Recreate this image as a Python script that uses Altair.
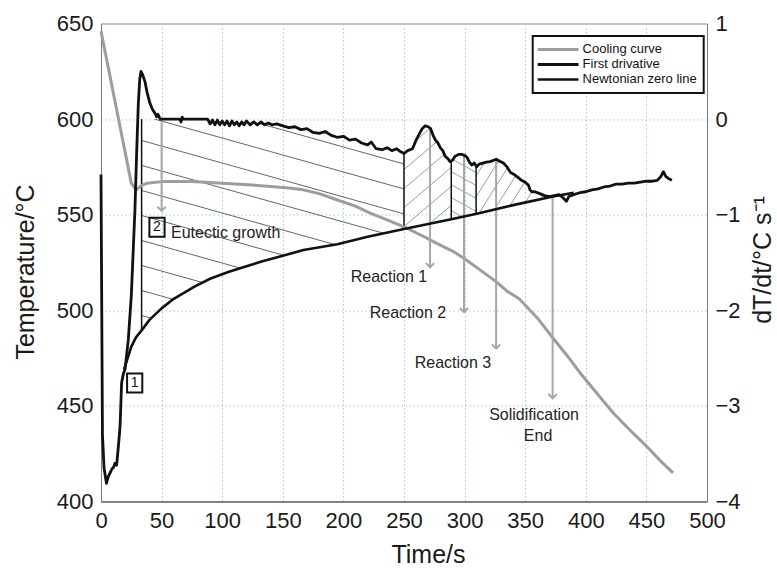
import altair as alt
import numpy as np
import pandas as pd

# ---------------- data ----------------
# cooling curve: time (s) and temperature (°C)
cool_t = [0, 25, 29, 33, 38, 50, 75, 100, 125, 140, 155, 167, 180, 195, 210, 222, 235,
          250, 265, 277, 290, 300, 313, 326, 335, 345, 360, 373, 385, 395, 410, 423,
          437, 450, 462, 472]
cool_T = [646, 566.5, 563, 565, 566.5, 567.3, 567.3, 566.5, 565.5, 564.7, 564, 563, 561,
          557.7, 554.5, 550.8, 547.5, 543.6, 539, 535, 531, 527, 521, 515, 510, 506, 496,
          485.4, 476, 467.5, 456, 446, 437, 429, 421, 415]

# first derivative dT/dt (°C/s)
der_t = [0, 1.2, 2.5, 4.5, 6, 7.5, 9, 10.5, 11.5, 12.9, 14.5, 15.7, 17, 18.5, 19.8, 22.5,
         25, 26.6, 28, 29.4, 30.8, 32, 33, 34.5, 36.3, 38, 40.4, 42.5, 44.6, 45.9, 47, 48,
         49, 60, 65, 66, 67, 68, 88, 90, 92, 94, 96, 98, 100, 102, 104, 106, 108, 110, 112,
         114, 116, 118, 120, 123, 126, 129, 132, 135, 138, 141, 145, 150, 155, 160, 165,
         170, 175, 180, 185, 190, 195, 200, 205, 210, 215, 220, 223, 227, 232, 236, 240,
         244, 247, 250, 253, 257, 260, 262, 265, 267.5, 270, 272, 274, 276, 278, 280, 282,
         284, 286, 288, 290, 292, 295, 298, 300, 302, 304, 306, 308, 310, 312, 315, 318,
         321, 324, 326, 329, 332, 335, 338, 341, 344, 347, 350, 352.6, 354, 355.5, 358,
         362, 366, 370, 374, 378, 381, 384, 386, 390, 395, 400, 405, 410, 415, 420, 425,
         430, 435, 440, 445, 450, 455, 459, 462, 464, 466, 468, 471]
der_d = [-0.58, -3.3, -3.65, -3.81, -3.74, -3.70, -3.66, -3.64, -3.60, -3.62, -3.40, -3.22,
         -2.76, -2.66, -2.62, -2.31, -1.85, -1.37, -0.95, -0.36, 0.165, 0.42, 0.50, 0.46,
         0.39, 0.28, 0.165, 0.10, 0.06, 0.025, 0.05, 0.02, 0.0, 0.0, 0.0, -0.03, 0.02, 0.0,
         0.0, -0.05, -0.01, -0.06, -0.01, -0.06, -0.02, -0.06, -0.02, -0.07, -0.02, -0.06,
         -0.03, -0.07, -0.03, -0.06, -0.02, -0.06, -0.03, -0.06, -0.03, -0.06, -0.04, -0.06,
         -0.05, -0.07, -0.09, -0.08, -0.11, -0.10, -0.14, -0.15, -0.13, -0.17, -0.19, -0.18,
         -0.22, -0.21, -0.25, -0.27, -0.24, -0.31, -0.32, -0.30, -0.33, -0.31, -0.34, -0.36,
         -0.33, -0.31, -0.22, -0.17, -0.10, -0.07, -0.08, -0.10, -0.17, -0.22, -0.25, -0.30,
         -0.33, -0.39, -0.41, -0.445, -0.43, -0.39, -0.37, -0.37, -0.38, -0.40, -0.45, -0.48,
         -0.46, -0.50, -0.47, -0.46, -0.45, -0.445, -0.43, -0.42, -0.44, -0.46, -0.50, -0.56,
         -0.58, -0.61, -0.64, -0.66, -0.69, -0.74, -0.76, -0.76, -0.78, -0.80, -0.81, -0.80,
         -0.79, -0.82, -0.86, -0.81, -0.79, -0.77, -0.76, -0.74, -0.73, -0.71, -0.70, -0.68,
         -0.68, -0.67, -0.67, -0.66, -0.65, -0.65, -0.64, -0.60, -0.55, -0.60, -0.62, -0.64]

# Newtonian zero line (°C/s)
zero_t = [19, 22, 25, 29, 33.5, 40, 50, 60, 77.5, 90, 105, 120, 132.5, 150, 167, 195, 220,
          250, 288, 310, 340, 373, 390]
zero_d = [-2.62, -2.50, -2.38, -2.28, -2.21, -2.10, -1.98, -1.88, -1.75, -1.67, -1.60,
          -1.54, -1.49, -1.43, -1.37, -1.31, -1.23, -1.15, -1.05, -0.99, -0.90, -0.81, -0.77]

series_names = ["Cooling curve", "First drivative", "Newtonian zero line"]
series_colors = ["#9d9d9d", "#111111", "#111111"]
series_widths = [3.0, 2.6, 1.4]

# boundaries between the latent-heat regions (s)
split_t = [33.5, 250, 289, 309.5, 384]

# annotation arrows: time (s) and arrow tip (°C/s)
arrow_t = [50, 271.5, 299.5, 326, 372.6]
arrow_tip_d = [-0.96, -1.55, -2.02, -2.40, -2.92]

# annotation labels (temperature coordinates)
label_text = ["Eutectic growth", "Reaction 1", "Reaction 2", "Reaction 3",
              "Solidification", "End"]
label_t = [57.8, 237.6, 253.3, 290.4, 357.3, 360.6]
label_T = [540.5, 517.5, 498.6, 472.5, 445, 434.4]
label_align = ["left", "center", "center", "center", "center", "center"]

# boxed stage markers
box_text = ["1", "2"]
box_t = [27.8, 46.2]
box_T = [462, 543.4]

# ---------------- geometry ----------------
W, H = 606, 478
X_DOMAIN = [0, 500]
T_DOMAIN = [400, 650]
D_DOMAIN = [-4, 1]
kx = W / (X_DOMAIN[1] - X_DOMAIN[0])
ky = H / (D_DOMAIN[1] - D_DOMAIN[0])
FONT = "Liberation Sans"


def deriv(t):
    return np.interp(t, der_t, der_d)


def zero(t):
    return np.interp(t, zero_t, zero_d)


def hatch(t0, t1, top_fn, bot_fn, slope, spacing, phase=0.0):
    """Parallel hatch segments (screen slope, screen spacing) clipped to a region."""
    u = np.arange(t0 * kx, t1 * kx + 1e-6, 0.25)
    t = u / kx
    v_top = -top_fn(t) * ky
    v_bot = -bot_fn(t) * ky
    cmin = (v_top - slope * u).min()
    cmax = (v_bot - slope * u).max()
    segs = []
    for k in range(int(np.floor((cmin - phase) / spacing)), int(np.ceil((cmax - phase) / spacing)) + 1):
        c = phase + k * spacing
        v = slope * u + c
        idx = np.flatnonzero((v >= v_top) & (v <= v_bot))
        if idx.size == 0:
            continue
        br = np.flatnonzero(np.diff(idx) > 1)
        starts = np.r_[idx[0], idx[br + 1]]
        ends = np.r_[idx[br], idx[-1]]
        for s, e in zip(starts, ends):
            if e - s < 3:
                continue
            segs.append({"t": t[s], "d": -v[s] / ky, "t2": t[e], "d2": -v[e] / ky})
    return segs


def eut_top(t):
    return np.minimum(deriv(t), 0.0)


hatch_dark = pd.DataFrame(hatch(split_t[0], split_t[1], eut_top, zero, 0.28, 25, 10))
hatch_light = pd.DataFrame(
    hatch(split_t[1], split_t[2], deriv, zero, -0.85, 19, 4)
    + hatch(split_t[2], split_t[3], deriv, zero, 0.55, 13, 3)
    + hatch(split_t[3], split_t[4], deriv, zero, -1.6, 21, 6)
)

sep_t = split_t[:4]
sep_df = pd.DataFrame({
    "t": sep_t,
    "d": [0.0] + [float(deriv(x)) for x in sep_t[1:]],
    "d2": [float(zero(x)) for x in sep_t],
})

arrow_df = pd.DataFrame({
    "t": arrow_t,
    "d": [float(min(deriv(x), 0.0)) for x in arrow_t],
    "d2": arrow_tip_d,
})

cool_df = pd.DataFrame({"t": cool_t, "T": cool_T, "series": series_names[0]})
lines_df = pd.concat([
    pd.DataFrame({"t": der_t, "d": der_d, "series": series_names[1]}),
    pd.DataFrame({"t": zero_t, "d": zero_d, "series": series_names[2]}),
])
label_df = pd.DataFrame({"t": label_t, "T": label_T, "text": label_text, "align": label_align})
box_df = pd.DataFrame({"t": box_t, "T": box_T, "text": box_text})

# ---------------- encodings ----------------
x_axis = alt.Axis(title="Time/s", values=list(range(0, 501, 50)), grid=True,
                  ticks=False, labelPadding=9, labelFlush=False, domainColor="#444",
                  titleX=327, titleY=61, titleBaseline="alphabetic")
t_axis = alt.Axis(title="Temperature/°C", orient="left", values=list(range(400, 651, 50)),
                  grid=True, ticks=False, labelPadding=8, labelFlush=False,
                  domainColor="#7a7a7a",
                  titleAngle=-90, titleX=-68, titleY=248, titleBaseline="alphabetic",
                  titleAlign="center")
d_axis = alt.Axis(title="dT/dt/°C s⁻¹", orient="right", values=[-4, -3, -2, -1, 0, 1],
                  grid=False, ticks=False, labelPadding=8, labelFlush=False,
                  domainColor="#7a7a7a",
                  labelExpr="replace(datum.label, '-', '\u2212')",
                  titleAngle=-90, titleX=64, titleY=236, titleBaseline="alphabetic",
                  titleAlign="center")

xs = alt.Scale(domain=X_DOMAIN, nice=False, zero=False)
ts = alt.Scale(domain=T_DOMAIN, nice=False, zero=False)
ds = alt.Scale(domain=D_DOMAIN, nice=False, zero=False)


def X(f):
    return alt.X(f, type="quantitative", scale=xs, axis=x_axis)


# legend entries drawn as long horizontal strokes
legend = alt.Legend(title=None, orient="none", legendX=431.7, legendY=12.5,
                    symbolType="M-3.4,0H3.4", symbolSize=144, symbolOffset=11.9,
                    labelFontSize=13, labelFont=FONT, labelColor="#111",
                    labelOffset=17, rowPadding=0, padding=6,
                    strokeColor="#111", fillColor="white")
color = alt.Color("series:N", scale=alt.Scale(domain=series_names, range=series_colors),
                  legend=legend)
swidth = alt.StrokeWidth("series:N", scale=alt.Scale(domain=series_names, range=series_widths),
                         legend=legend)


# back group: hatching and region boundaries (dT/dt scale, no axis)
def yb(f):
    return alt.Y(f, type="quantitative", scale=ds, axis=None)


back = alt.layer(
    alt.Chart(hatch_dark).mark_rule(color="#56677a", strokeWidth=1).encode(
        x=X("t"), y=yb("d"), x2="t2", y2="d2"),
    alt.Chart(hatch_light).mark_rule(color="#8ba3b9", strokeWidth=1).encode(
        x=X("t"), y=yb("d"), x2="t2", y2="d2"),
    alt.Chart(sep_df).mark_rule(color="#111", strokeWidth=1.5).encode(
        x=X("t"), y=yb("d"), y2="d2"),
)


# temperature group: cooling curve and labels (left axis)
def yt(f):
    return alt.Y(f, type="quantitative", scale=ts, axis=t_axis)


temp = alt.layer(
    alt.Chart(cool_df).mark_line(strokeJoin="round").encode(
        x=X("t"), y=yt("T"), color=color, strokeWidth=swidth),
    alt.Chart(label_df).transform_filter("datum.align == 'center'").mark_text(
        font=FONT, fontSize=16, color="#222", align="center").encode(
        x=X("t"), y=yt("T"), text="text:N"),
    alt.Chart(label_df).transform_filter("datum.align == 'left'").mark_text(
        font=FONT, fontSize=16, color="#222", align="left").encode(
        x=X("t"), y=yt("T"), text="text:N"),
    alt.Chart(box_df).mark_point(shape="M-0.8,-1H0.8V1H-0.8Z", size=361, filled=False,
                                 color="#111", strokeWidth=2, opacity=1).encode(
        x=X("t"), y=yt("T")),
    alt.Chart(box_df).mark_text(font=FONT, fontSize=14, color="#111").encode(
        x=X("t"), y=yt("T"), text="text:N"),
)


# front group: derivative, zero line and arrows (right axis)
def yd(f):
    return alt.Y(f, type="quantitative", scale=ds, axis=d_axis)


front = alt.layer(
    alt.Chart(arrow_df).mark_rule(color="#a6a6a6", strokeWidth=2).encode(
        x=X("t"), y=yd("d"), y2="d2"),
    alt.Chart(arrow_df).mark_point(shape="M-1,-1L0,0L1,-1", size=70, filled=False,
                                   color="#a6a6a6", strokeWidth=2, opacity=1).encode(
        x=X("t"), y=yd("d2")),
    alt.Chart(lines_df).mark_line(strokeJoin="round").encode(
        x=X("t"), y=yd("d"), color=color, strokeWidth=swidth),
)

chart = alt.layer(back, temp, front).resolve_scale(y="independent").properties(
    width=W, height=H,
    padding={"left": 101, "top": 23.5, "right": 70, "bottom": 66.3},
    autosize=alt.AutoSizeParams(type="none"),
    background="white",
).configure_view(stroke="#8a8a8a", strokeWidth=1).configure_axis(
    labelFont=FONT, labelFontSize=22, labelColor="#1a1a1a",
    titleFont=FONT, titleFontSize=25, titleFontWeight="normal", titleColor="#1a1a1a",
    gridColor="#a9c6e4", gridDash=[1.5, 2.5], gridWidth=1, domainWidth=1,
).configure_legend(strokeWidth=2)

chart.save("out.html", embed_options={"renderer": "svg", "actions": False})
